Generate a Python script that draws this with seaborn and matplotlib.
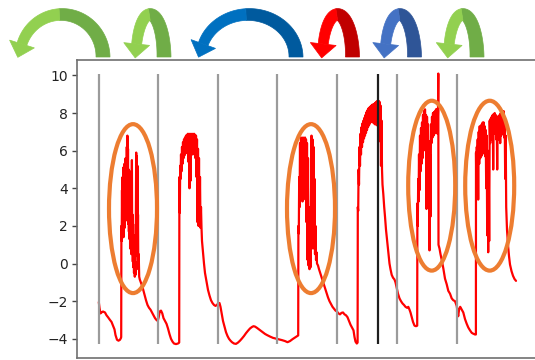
import numpy as np
import pandas as pd
import matplotlib
matplotlib.use("Agg")
import matplotlib.pyplot as plt
import seaborn as sns
from matplotlib.patches import Ellipse, Polygon

sns.set_style("white")
plt.rcParams["font.family"] = ["DejaVu Sans"]

# ---------------- data (sample index, value) ----------------
base_0 = [(98.8, -2.05), (99.5, -2.35), (100.5, -2.65), (101.5, -2.6), (103, -2.55), (105, -2.6),
          (106.5, -2.75), (108, -2.85), (110, -3.0), (111.5, -3.1), (113, -3.3), (114.5, -3.5),
          (115.5, -3.8), (117, -4.05), (118.5, -4.1), (120, -4.05), (121, -3.95)]
burst_1 = [(121.2, -3.9), (121.4, 2.0), (121.7, 1.2), (122.0, 3.9), (122.3, 1.5), (122.6, 4.6),
           (122.9, 2.3), (123.2, 5.1), (123.5, 1.4), (123.8, 4.7), (124.1, 2.6), (124.4, 5.3),
           (124.7, 1.9), (125.0, 4.9), (125.3, 2.7), (125.6, 5.6), (125.9, 3.0), (126.2, 5.2),
           (126.5, 2.3), (126.8, 6.2), (127.1, 2.9), (127.4, 6.8), (127.7, 3.4), (128.0, 6.1),
           (128.3, 2.1), (128.6, 5.0), (128.9, 1.7), (129.2, 4.5), (129.5, 1.3), (129.8, 4.9),
           (130.1, 0.8), (130.4, 4.1), (130.7, 1.1), (131.0, 3.4), (131.3, 0.5), (131.6, 2.9),
           (131.9, 5.5), (132.2, 0.7), (132.5, 2.6), (132.8, 0.1), (133.1, 2.1), (133.4, -0.2),
           (133.7, 1.5), (134.0, -0.5), (134.4, 0.8), (134.8, -0.7), (135.2, 0.1), (135.6, -0.6),
           (135.9, 3.0), (136.2, 5.9), (136.5, 1.4), (136.8, 5.7), (137.1, 0.4), (137.4, 5.2),
           (137.7, 0.9), (138.0, 2.6), (138.3, -0.3), (138.7, 0.5), (139.2, -0.7), (139.8, -0.85)]
decay_1 = [(141.5, -1.1), (143, -1.35), (144.5, -1.65), (146, -1.95), (147.5, -2.2), (149, -2.35),
           (150.5, -2.45), (152, -2.6), (153.5, -2.75), (155, -2.9), (156.5, -3.0), (157.7, -3.05),
           (158.7, -2.85), (159.7, -2.55), (161, -2.5), (162.3, -2.65), (163.5, -2.9), (165, -3.05),
           (166.5, -3.2), (168, -3.45), (169.5, -3.75), (171, -4.0), (172.5, -4.15), (174, -4.25),
           (176, -4.28), (178, -4.25), (179.2, -4.2)]
hump_2 = [(179.4, 4.6), (179.8, 2.7), (180.2, 5.2), (180.6, 4.5), (181.0, 5.8), (181.5, 4.9),
          (182.0, 6.2), (182.5, 5.3), (183.0, 6.45), (183.5, 5.6), (184.0, 6.6), (184.5, 5.75),
          (185.0, 6.7), (185.5, 5.85), (186.0, 6.8), (186.5, 5.9), (187.0, 6.85), (187.5, 5.95),
          (188.0, 6.9), (188.5, 5.4), (189.0, 6.85), (189.5, 4.0), (190.0, 6.9), (190.5, 4.4),
          (191.0, 6.85), (191.5, 5.85), (192.0, 6.9), (192.5, 5.8), (193.0, 6.85), (193.5, 5.9),
          (194.0, 6.9), (194.5, 5.8), (195.0, 6.85), (195.5, 5.6), (196.0, 6.8), (196.5, 4.6),
          (197.0, 6.6), (197.5, 2.2), (198.0, 6.1), (198.5, 2.0), (199.0, 5.6), (199.5, 2.0),
          (200.0, 4.6), (200.5, 1.9), (201.0, 3.0), (201.5, 1.9), (202.0, 1.2)]
decay_2 = [(203, 0.6), (204, 0.0), (205, -0.5), (206.5, -0.95), (208, -1.4), (209.5, -1.7),
           (211, -1.95), (212.5, -2.1), (214, -2.2), (215.5, -2.25), (217, -2.2), (218.3, -2.1),
           (219.5, -2.1), (220.5, -2.3), (221.5, -2.6), (223, -3.05), (224.5, -3.35), (226, -3.65),
           (227.5, -3.85), (229, -4.0), (230.5, -4.1), (232, -4.18), (234, -4.25), (236, -4.27),
           (238, -4.2), (240, -4.1), (242, -3.98), (244, -3.85), (246, -3.7), (248, -3.57),
           (250, -3.45), (252, -3.37), (253.5, -3.33), (255, -3.35), (257, -3.42), (259, -3.5),
           (261, -3.58), (263, -3.66), (265, -3.74), (267, -3.8), (270, -3.88), (273, -3.95),
           (276, -3.99), (279, -4.03), (282, -4.07), (285, -4.12), (287.5, -4.18), (290, -4.12),
           (292.5, -4.02), (295, -3.93), (297, -3.86), (298.2, -3.82)]
burst_3 = [(298.4, 2.0), (298.8, 1.6), (299.2, 4.6), (299.6, 3.0), (300.0, 6.4), (300.5, 3.4),
           (301.0, 6.7), (301.5, 3.6), (302.0, 6.5), (302.5, 3.3), (303.0, 6.7), (303.5, 3.8),
           (304.0, 6.6), (304.5, 3.5), (305.0, 6.7), (305.5, 3.4), (306.0, 6.6), (306.5, 2.2),
           (307.0, 6.4), (307.5, 0.2), (308.0, 5.6), (308.5, -0.1), (309.0, 3.0), (309.5, -0.3),
           (310.0, 1.5), (310.5, -0.2), (311.0, 3.5), (311.5, 6.8), (312.0, 1.0), (312.5, 6.6),
           (313.0, 0.8), (313.5, 6.2), (314.0, 0.9), (314.5, 4.5), (315.0, 0.5), (315.5, 2.0),
           (316.0, 0.2), (316.5, 0.6), (317.0, 0.0), (318.0, -0.1)]
decay_3 = [(319, -0.3), (320.5, -0.55), (322, -0.8), (323.5, -1.05), (325, -1.3), (326.5, -1.55),
           (328, -1.8), (329.5, -2.0), (331, -2.15), (332.5, -2.3), (334, -2.4), (335.5, -2.5),
           (337, -2.55), (338.5, -2.65), (340, -2.7), (341.5, -2.62), (343, -2.6), (344.5, -2.7),
           (346, -2.75), (347.5, -2.85), (349, -3.05), (350.5, -3.25), (352, -3.4), (353.5, -3.55),
           (354.5, -3.9), (355.5, -4.15), (356.8, -4.25), (357.6, -4.2)]
hump_4 = [(357.8, 3.0), (358.2, 2.8), (358.6, 5.0), (359.0, 4.2), (359.5, 6.2), (360.0, 5.2),
          (360.5, 6.9), (361.0, 5.8), (361.5, 7.25), (362.0, 6.2), (362.5, 7.45), (363.0, 6.45),
          (363.5, 7.6), (364.0, 6.65), (364.5, 7.75), (365.0, 6.8), (365.5, 7.9), (366.0, 6.95),
          (366.5, 8.05), (367.0, 7.1), (367.5, 8.15), (368.0, 7.25), (368.5, 8.25), (369.0, 7.35),
          (369.5, 8.3), (370.0, 7.45), (370.5, 8.35), (371.0, 7.55), (371.5, 8.4), (372.0, 7.55),
          (372.5, 8.45), (373.0, 7.5), (373.5, 8.45), (374.0, 7.45), (374.5, 8.5), (375.0, 7.4),
          (375.5, 8.55), (376.0, 7.4), (376.5, 8.6), (377.0, 7.35), (377.5, 8.65), (378.0, 7.3),
          (378.5, 8.65), (379.0, 7.3), (379.5, 8.6), (380.0, 6.5), (380.5, 8.4), (381.0, 5.2),
          (381.5, 7.6), (382.0, 5.0), (382.5, 4.2)]
decay_4 = [(383.3, 3.7), (384.2, 3.0), (385, 2.5), (386, 1.8), (387, 1.3), (388.3, 0.6),
           (389.5, 0.0), (390.5, -0.3), (391.7, -0.6), (393, -0.75), (394.5, -0.85), (395.5, -1.0),
           (396.7, -1.3), (398, -1.6), (399.5, -1.85), (401, -2.0), (402.5, -2.12), (404, -2.2),
           (405.5, -2.3), (407, -2.35), (408.3, -2.3), (409.5, -2.45), (410.5, -2.6), (411.7, -2.85),
           (413, -3.1), (414.5, -3.3), (416, -3.33), (417.2, -3.3)]
burst_5 = [(417.4, 3.2), (417.8, 2.0), (418.2, 4.5), (418.6, 3.3), (419.0, 5.8), (419.5, 3.9),
           (420.0, 6.8), (420.5, 4.9), (421.0, 7.2), (421.5, 5.3), (422.0, 7.5), (422.5, 5.6),
           (423.0, 7.9), (423.5, 6.0), (424.0, 8.1), (424.5, 6.3), (425.0, 8.2), (425.5, 6.4),
           (426.0, 7.9), (426.5, 2.9), (427.0, 7.8), (427.5, 6.5), (428.0, 7.4), (428.5, 4.0),
           (429.0, 6.5), (429.5, 0.7), (430.0, 5.8), (430.5, 2.5), (431.0, 7.4), (431.5, 6.4),
           (432.0, 7.8), (432.5, 6.7), (433.0, 8.0), (433.5, 6.8), (434.0, 8.05), (434.5, 6.9),
           (435.0, 8.1), (435.5, 7.0), (436.0, 8.2), (436.5, 7.1), (437.0, 8.2), (437.5, 6.9),
           (438.0, 8.1), (438.3, 10.1), (438.5, 1.0)]
decay_5 = [(439.5, 0.8), (440.5, 0.5), (441.7, 0.2), (443.3, -0.25), (445, -0.8), (446.7, -1.1),
           (448.3, -1.45), (450, -1.6), (451.7, -1.85), (453.3, -1.95), (455, -2.0), (456.7, -2.25),
           (458.2, -2.8), (459.2, -2.4), (460.2, -2.3), (461.7, -2.45), (463.3, -2.6), (465, -2.95),
           (466.7, -3.2), (468.3, -3.4), (470, -3.55), (471.7, -3.68), (473.3, -3.73), (475, -3.77),
           (475.9, -3.77)]
burst_6 = [(476.0, 5.9), (476.4, 3.5), (476.8, 6.2), (477.2, 4.6), (477.7, 6.6), (478.2, 3.4),
           (478.7, 7.0), (479.2, 5.3), (479.7, 7.3), (480.2, 5.6), (480.7, 7.2), (481.2, 5.7),
           (481.7, 7.4), (482.2, 5.8), (482.7, 7.5), (483.2, 5.9), (483.7, 7.5), (484.2, 5.9),
           (484.7, 7.3), (485.2, 5.7), (485.7, 7.1), (486.2, 4.0), (486.7, 6.8), (487.2, 1.5),
           (487.7, 6.0), (488.2, 0.6), (488.7, 5.5), (489.2, 1.2), (489.7, 7.6), (490.2, 6.4),
           (490.7, 7.7), (491.2, 6.6), (491.7, 7.8), (492.2, 6.8), (492.7, 7.9), (493.2, 5.0),
           (493.7, 7.95), (494.2, 6.9), (494.7, 8.0), (495.2, 6.9), (495.7, 7.9), (496.2, 6.6),
           (496.7, 7.8), (497.2, 5.0), (497.7, 7.8), (498.2, 6.6), (498.7, 7.85), (499.2, 6.8),
           (499.7, 7.9), (500.2, 6.4), (500.7, 8.0), (501.2, 6.8), (501.7, 8.05), (502.2, 6.9),
           (502.7, 8.1), (503.2, 6.9), (503.7, 8.1), (504.2, 6.7), (504.7, 7.6), (505.2, 4.5),
           (505.7, 6.8), (506.2, 3.0)]
decay_6 = [(507, 1.8), (508, 1.0), (509, 0.4), (510, -0.05), (511.5, -0.4), (513, -0.65),
           (514.5, -0.82), (516, -0.92)]

change_points = [99, 157.7, 218.3, 277.3, 337.3, 396.7, 457.3]
marked_point = [377.7]
y_ticks = [-4, -2, 0, 2, 4, 6, 8, 10]

# highlighted bursts: (center t, center value, width t, height value)
highlights = [(133, 2.92, 48, 8.98), (311, 2.92, 48, 8.98),
              (431.7, 4.14, 47, 9.03), (489.7, 4.14, 49, 9.03)]

# curved arrows above the plot (pixel coords): left end, right foot, light, dark colour
arrows = [(20, 103, "#92D050", "#70AD47"),
          (136, 164, "#92D050", "#70AD47"),
          (201, 296, "#0070C0", "#005A9E"),
          (322.5, 352.5, "#FF0000", "#C00000"),
          (385, 414.5, "#4472C4", "#2F5597"),
          (448.5, 477, "#92D050", "#70AD47")]

# ---------------- build ----------------
segments = [base_0, burst_1, decay_1, hump_2, decay_2, burst_3, decay_3,
            hump_4, decay_4, burst_5, decay_5, burst_6, decay_6]
pts = [p for seg in segments for p in seg]
df = pd.DataFrame(pts, columns=["t", "v"])

fig = plt.figure(figsize=(5.35, 3.6), dpi=100)
ax = fig.add_axes([77 / 535, 2 / 360, 523 / 535, 298 / 360])

sns.lineplot(data=df, x="t", y="v", sort=False, estimator=None, color="#FF0000",
             linewidth=1.6, ax=ax, zorder=2)
ax.vlines(change_points, -4.3, 10.1, colors="#9B9B9B", linewidth=1.6, zorder=3)
ax.vlines(marked_point, -4.3, 10.1, colors="#1E1E1E", linewidth=1.6, zorder=3)

for cx, cy, w, h in highlights:
    ax.add_patch(Ellipse((cx, cy), w, h, fill=False, edgecolor="#ED7D31",
                         linewidth=3.0, zorder=4))

ax.set_xlim(77, 600)
ax.set_ylim(-5.02, 10.82)
ax.set_xticks([])
ax.set_yticks(y_ticks)
ax.set_xlabel("")
ax.set_ylabel("")
ax.tick_params(axis="y", left=True, length=3.5, width=1.0, color="#444444",
               labelsize=10, labelcolor="#222222", pad=3)
for s in ax.spines.values():
    s.set_color("#707070")
    s.set_linewidth(1.2)

# overlay for the arrows
ov = fig.add_axes([0, 0, 1, 1], zorder=5)
ov.set_xlim(0, 535)
ov.set_ylim(360, 0)
ov.axis("off")
ov.patch.set_alpha(0)


def draw_arrow(axo, xl, xr, light, dark, ytop=14.5, base=57.0, head_base=44.0,
               t_foot=14.0, t_end=10.0, head_hw=13.0, head_len=14.0):
    cx = (xl + xr) / 2
    a = (xr - xl) / 2
    b = base - ytop
    th_end = np.pi - np.arcsin((base - head_base) / b)
    th = np.linspace(0, th_end, 240)
    x = cx + a * np.cos(th)
    y = base - b * np.sin(th)
    dx = -a * np.sin(th)
    dy = -b * np.cos(th)
    nrm = np.hypot(dx, dy)
    tx, ty = dx / nrm, dy / nrm
    nx, ny = -ty, tx
    t = t_foot + (t_end - t_foot) * th / th_end
    x1, y1 = x + nx * t / 2, y + ny * t / 2
    x2, y2 = x - nx * t / 2, y - ny * t / 2
    split = np.searchsorted(th, np.pi / 2 + 0.05)
    for sl, col in ((slice(0, split + 1), dark), (slice(split, None), light)):
        px = np.concatenate([x1[sl], x2[sl][::-1]])
        py = np.concatenate([y1[sl], y2[sl][::-1]])
        axo.add_patch(Polygon(np.column_stack([px, py]), closed=True,
                              facecolor=col, edgecolor=col, linewidth=0.5))
    ex, ey = x[-1], y[-1]
    head = [(ex + nx[-1] * head_hw, ey + ny[-1] * head_hw),
            (ex - nx[-1] * head_hw, ey - ny[-1] * head_hw),
            (ex + tx[-1] * head_len, ey + ty[-1] * head_len)]
    axo.add_patch(Polygon(head, closed=True, facecolor=light, edgecolor=light,
                          linewidth=0.5))


for xl, xr, lc, dc in arrows:
    draw_arrow(ov, xl, xr, lc, dc)

fig.savefig("out.png", dpi=100)
